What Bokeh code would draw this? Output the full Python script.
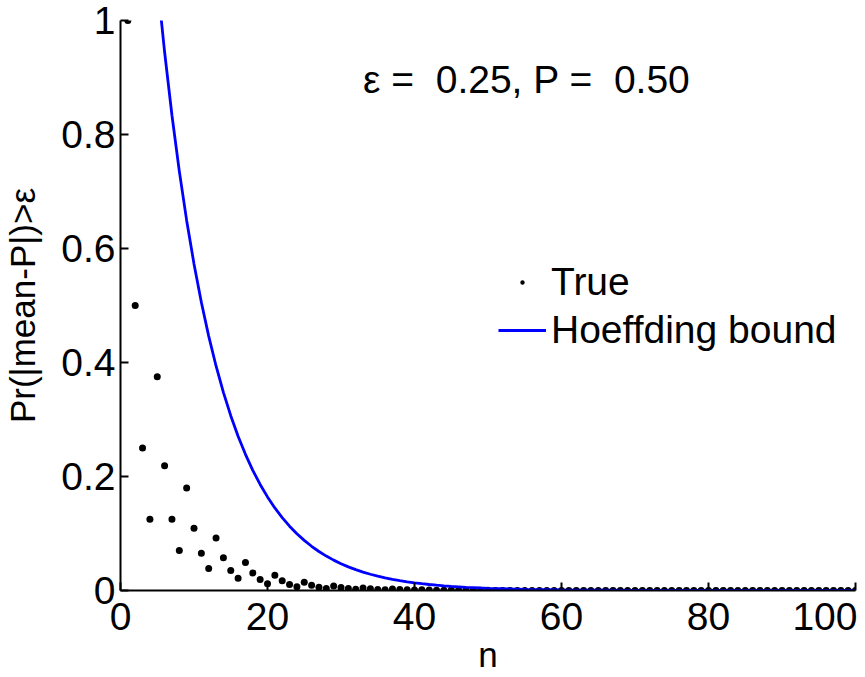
from bokeh.plotting import figure
from bokeh.models import Range1d, FixedTicker, CustomJSTickFormatter, Legend, LegendItem, Label
from bokeh.embed import file_html
from bokeh.resources import INLINE

FONT = "Liberation Sans"

# ---- data ----
true_n = list(range(1, 101))
true_p = [1.0, 0.5, 0.25, 0.125, 0.375, 0.2188, 0.125, 0.0703, 0.1797, 0.1094,
          0.0654, 0.0386, 0.0923, 0.0574, 0.0352, 0.0213, 0.0490, 0.0309, 0.0192, 0.0118,
          0.0266, 0.0169, 0.0106, 0.0066, 0.0146, 0.0094, 0.0059, 0.0037, 0.0081, 0.0052,
          0.0033, 0.0021, 0.0046, 0.0029, 0.0019, 0.0012, 0.0026, 0.0017, 0.0011, 0.0007,
          0.0014, 0.0009, 0.0006, 0.0004, 0.0008, 0.0005, 0.0003, 0.0002, 0.0004, 0.0003,
          0.0002, 0.0001, 0.0002, 0.0001, 0.0001, 0.0001, 0.0001, 0.0001, 0.0001, 0.0001,
          0.0, 0.0, 0.0, 0.0, 0.0, 0.0, 0.0, 0.0, 0.0, 0.0,
          0.0, 0.0, 0.0, 0.0, 0.0, 0.0, 0.0, 0.0, 0.0, 0.0,
          0.0, 0.0, 0.0, 0.0, 0.0, 0.0, 0.0, 0.0, 0.0, 0.0,
          0.0, 0.0, 0.0, 0.0, 0.0, 0.0, 0.0, 0.0, 0.0, 0.0]

hoeff_n = list(range(1, 51)) + [55, 60, 70, 80, 90, 100]
hoeff_p = [1.765, 1.5576, 1.3746, 1.2131, 1.0705, 0.9447, 0.8338, 0.7358, 0.6493, 0.5730,
           0.5057, 0.4463, 0.3939, 0.3476, 0.3067, 0.2707, 0.2389, 0.2108, 0.1861, 0.1642,
           0.1449, 0.1279, 0.1128, 0.0996, 0.0879, 0.0776, 0.0684, 0.0604, 0.0533, 0.0470,
           0.0415, 0.0366, 0.0323, 0.0285, 0.0252, 0.0222, 0.0196, 0.0173, 0.0153, 0.0135,
           0.0119, 0.0105, 0.0093, 0.0082, 0.0072, 0.0064, 0.0056, 0.0050, 0.0044, 0.0039,
           0.0021, 0.0011, 0.0003, 0.0001, 0.00003, 0.00001]

x_ticks = [0, 20, 40, 60, 80, 100]
y_ticks = [0, 0.2, 0.4, 0.6, 0.8, 1]
annotation = "\u03b5 =\u00a0\u00a00.25, P =\u00a0\u00a00.50"
annot_x, annot_y = 33, 0.897
series_labels = ["True", "Hoeffding bound"]
x_label = "n"
y_label = "Pr(|mean-P|)>\u03b5"

p = figure(width=857, height=676, output_backend="svg", toolbar_location=None,
           x_range=Range1d(0, 100), y_range=Range1d(0, 1),
           min_border_left=120, min_border_top=20, min_border_right=2, min_border_bottom=85)
p.outline_line_color = None
p.grid.visible = False

r_true = p.scatter(true_n, true_p, size=28, color="black", marker="dot")
r_hoef = p.line(hoeff_n, hoeff_p, line_color="#0000ff", line_width=2.8)

for ax in (p.xaxis[0], p.yaxis[0]):
    ax.axis_line_color = "black"
    ax.axis_line_width = 2
    ax.major_tick_in = 8
    ax.major_tick_out = 0
    ax.major_tick_line_width = 2
    ax.minor_tick_line_color = None
    ax.major_label_text_font = FONT
    ax.major_label_text_font_size = "39px"
    ax.major_label_text_color = "black"
    ax.axis_label_text_font = FONT
    ax.axis_label_text_font_size = "35px"
    ax.axis_label_text_font_style = "normal"
    ax.axis_label_text_color = "black"
    ax.formatter = CustomJSTickFormatter(code="return String(tick);")

p.xaxis[0].ticker = FixedTicker(ticks=x_ticks)
p.yaxis[0].ticker = FixedTicker(ticks=y_ticks)
p.xaxis[0].axis_label = x_label
p.yaxis[0].axis_label = y_label
p.xaxis[0].major_label_standoff = 12
p.yaxis[0].major_label_standoff = 5
p.xaxis[0].axis_label_standoff = 2
p.yaxis[0].axis_label_standoff = 16

p.add_layout(Label(x=annot_x, y=annot_y, text=annotation, text_font=FONT,
                   text_font_size="39px", text_color="black", text_baseline="middle"))

legend = Legend(items=[LegendItem(label=series_labels[0], renderers=[r_true]),
                       LegendItem(label=series_labels[1], renderers=[r_hoef])],
                location=(378, 238), border_line_alpha=0, background_fill_alpha=0,
                label_text_font=FONT, label_text_font_size="39px", label_text_color="black",
                glyph_width=48, glyph_height=44, label_height=44, spacing=4, padding=0, margin=0,
                label_standoff=5)
p.add_layout(legend, "center")

open("out.html", "w").write(file_html(p, INLINE))
